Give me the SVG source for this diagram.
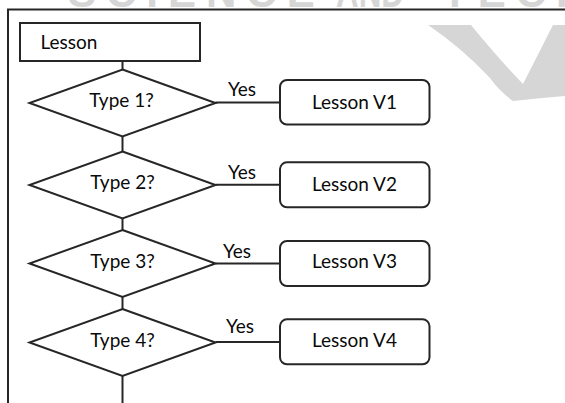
<svg xmlns="http://www.w3.org/2000/svg" width="565" height="403" viewBox="0 0 565 403">
<style>
.ln{fill:none;stroke:#262626;stroke-width:2}
.shape{fill:#ffffff;stroke:#262626;stroke-width:2}
.t{font-family:Lato,"Liberation Sans",sans-serif;font-size:19px;fill:#0a0a0a}
.m{text-anchor:middle}
.wm{font-family:"Liberation Sans",Arial,sans-serif;font-weight:bold;font-size:42px;fill:#d6d6d6}
</style>
<rect width="565" height="403" fill="#ffffff"/>
<g id="watermark">
<text class="wm" x="68" y="7" letter-spacing="10">SCIENCE</text>
<text class="wm" x="336" y="7" textLength="68" lengthAdjust="spacingAndGlyphs">AND</text>
<text class="wm" x="442" y="7" letter-spacing="10">TECH</text>
<path d="M428,25 L471,25 Q498,58 523,84 L553,25 L565,25 L565,96 Q540,98 513,101 Q500,92 490,78 Q462,48 428,25 Z" fill="#d6d6d6"/>
</g>
<g id="frame">
<path class="ln" d="M8,403 V9.5 H565"/>
</g>
<g id="connectors">
<path class="ln" d="M122.5,61 V69.5"/>
<path class="ln" d="M122.5,136.5 V151.5"/>
<path class="ln" d="M122.5,218.5 V230"/>
<path class="ln" d="M122.5,297 V309"/>
<path class="ln" d="M122.5,376 V403"/>
<path class="ln" d="M215.5,102.5 H280"/>
<path class="ln" d="M215.5,184.8 H280"/>
<path class="ln" d="M215.5,263.5 H280"/>
<path class="ln" d="M215.5,342 H280"/>
<text class="t" x="228" y="96">Yes</text>
<text class="t" x="228" y="179">Yes</text>
<text class="t" x="223" y="258">Yes</text>
<text class="t" x="226" y="333">Yes</text>
</g>
<g id="lesson">
<rect class="shape" x="20" y="23" width="180" height="38"/>
<text class="t" x="40.5" y="49.3">Lesson</text>
</g>
<g id="type1">
<polygon class="shape" points="122.5,69.5 215.5,103 122.5,136.5 29.5,103"/>
<text class="t m" x="121.5" y="106.7">Type 1?</text>
</g>
<g id="type2">
<polygon class="shape" points="122.5,151.5 215.5,185 122.5,218.5 29.5,185"/>
<text class="t m" x="122.5" y="189.3">Type 2?</text>
</g>
<g id="type3">
<polygon class="shape" points="122.5,230 215.5,263.5 122.5,297 29.5,263.5"/>
<text class="t m" x="122.5" y="267.7">Type 3?</text>
</g>
<g id="type4">
<polygon class="shape" points="122.5,309 215.5,342.5 122.5,376 29.5,342.5"/>
<text class="t m" x="122.5" y="346.7">Type 4?</text>
</g>
<g id="v1">
<rect class="shape" x="280" y="80" width="149.5" height="44.5" rx="7"/>
<text class="t m" x="354.5" y="109.3">Lesson V1</text>
</g>
<g id="v2">
<rect class="shape" x="280" y="162.3" width="149.5" height="45" rx="7"/>
<text class="t m" x="354.5" y="191">Lesson V2</text>
</g>
<g id="v3">
<rect class="shape" x="280" y="241" width="149.5" height="45" rx="7"/>
<text class="t m" x="354.5" y="268.3">Lesson V3</text>
</g>
<g id="v4">
<rect class="shape" x="280" y="319.3" width="149.5" height="45" rx="7"/>
<text class="t m" x="354.5" y="346.7">Lesson V4</text>
</g>
</svg>
